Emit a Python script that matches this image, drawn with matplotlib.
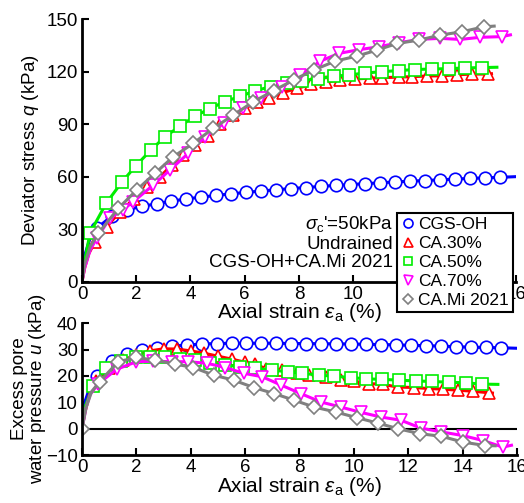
import numpy as np
import matplotlib
matplotlib.use("Agg")
import matplotlib.pyplot as plt
from matplotlib.lines import Line2D

plt.rcParams["font.family"] = ["Liberation Sans", "DejaVu Sans"]
plt.rcParams["mathtext.fontset"] = "custom"
plt.rcParams["mathtext.rm"] = "Liberation Sans"
plt.rcParams["mathtext.it"] = "Liberation Sans:italic"

# ---- Deviator stress q (kPa) vs axial strain (%) ----
q_blue_x = [0, 0.1, 0.3, 0.55, 1.1, 1.65, 2.2, 2.75, 3.3, 3.85, 4.4, 4.95, 5.5, 6.05, 6.6, 7.15, 7.7,
            8.25, 8.8, 9.35, 9.9, 10.45, 11.0, 11.55, 12.1, 12.65, 13.2, 13.75, 14.3, 14.85, 15.4, 16.0]
q_blue_y = [0, 15, 25, 30.6, 37.5, 41, 43, 44.5, 46, 47.3, 48.3, 49.3, 50.2, 51, 51.8, 52.5, 53.2,
            53.8, 54.4, 55, 55.5, 56, 56.5, 57, 57.4, 57.8, 58.2, 58.6, 59, 59.3, 59.6, 60]
q_red_x = [0, 0.1, 0.25, 0.48, 0.91, 1.4, 1.9, 2.39, 2.88, 3.31, 3.74, 4.17, 4.65, 5.1, 5.55, 6.0, 6.45,
           6.88, 7.4, 7.92, 8.45, 8.99, 9.52, 10.08, 10.63, 11.06, 11.68, 12.17, 12.74, 13.27, 13.82,
           14.38, 14.99, 15.1]
q_red_y = [0, 8, 16, 22.8, 31.4, 40, 47, 54.2, 60, 66.6, 72.5, 78, 83, 90, 95, 99, 102.5,
           104.7, 108, 110.4, 112.7, 114, 115.2, 115.8, 116.3, 116.5, 116.9, 117.1, 117.5, 117.6, 118.2,
           118.6, 118.6, 118.8]
q_green_x = [0, 0.1, 0.2, 0.3, 0.9, 1.46, 1.99, 2.53, 3.05, 3.61, 4.17, 4.72, 5.27, 5.82, 6.38, 6.97,
             7.56, 8.11, 8.7, 9.28, 9.85, 10.44, 11.08, 11.68, 12.27, 12.9, 13.52, 14.13, 14.75, 15.3]
q_green_y = [0, 12, 20, 28, 45, 56.7, 66.3, 75, 82.7, 88.8, 94.6, 98.9, 102.9, 105.8, 109, 111.5,
             113.5, 114.8, 116, 117.3, 118.1, 119.2, 120, 120.6, 121.2, 121.5, 121.7, 122.1, 122.3, 122.5]
q_mag_x = [0, 0.1, 0.3, 0.54, 1.03, 1.5, 1.89, 2.63, 3.24, 3.92, 4.55, 5.23, 5.95, 6.6, 7.37, 8.05,
           8.79, 9.47, 10.2, 10.94, 11.7, 12.41, 13.2, 13.95, 14.68, 15.48, 15.8]
q_mag_y = [0, 8, 18, 24.8, 36.2, 41, 45.7, 55.2, 63.8, 73.3, 82.8, 90.5, 99, 104.7, 111.4, 118,
           126, 130.4, 132.5, 134.2, 136.5, 138.4, 139, 138.4, 139.6, 140, 141]
q_gray_x = [0, 0.1, 0.3, 0.6, 1.34, 2.02, 2.69, 3.37, 4.1, 4.84, 5.58, 6.32, 7.07, 7.8, 8.54, 9.34,
            10.14, 10.88, 11.62, 12.42, 13.22, 14.02, 14.82, 15.2]
q_gray_y = [0, 10, 20, 27.6, 41.9, 52.4, 61.9, 71.4, 79, 87.6, 95.2, 102.8, 109.1, 115.2, 120.9, 126,
            128.9, 132.3, 136.1, 138, 140.9, 142.8, 145.6, 146]

# ---- Excess pore water pressure u (kPa) vs axial strain (%) ----
u_blue_x = q_blue_x
u_blue_y = [0, 10, 16, 20, 25.5, 28.3, 29.8, 30.5, 31.3, 31.7, 32.1, 32.3, 32.4, 32.4, 32.4, 32.4, 32.3,
            32.3, 32.2, 32.2, 32.1, 32.0, 31.9, 31.8, 31.6, 31.5, 31.3, 31.1, 30.9, 30.8, 30.7, 30.5]
u_red_x = [0, 0.1, 0.3, 0.5, 1.0, 1.5, 2.0, 2.5, 3.0, 3.5, 4.0, 4.5, 5.0, 5.5, 6.0, 6.35, 6.76, 7.37,
           7.9, 8.36, 8.97, 9.52, 10.01, 10.57, 11.06, 11.61, 12.23, 12.78, 13.27, 13.82, 14.38, 14.99, 15.1]
u_red_y = [0, 6, 14, 18, 23, 26, 28, 29.5, 30.3, 30.2, 29.5, 28.6, 27.5, 26.4, 25.2, 24.5, 22.8, 22.2,
           21.2, 20.3, 19.7, 18.6, 18.0, 17.1, 16.8, 15.8, 15.6, 15.2, 15.0, 14.6, 14.2, 13.6, 13.5]
u_green_x = [0, 0.1, 0.4, 0.9, 1.45, 2.0, 2.5, 3.05, 3.6, 4.15, 4.7, 5.27, 5.82, 6.37, 7.0, 7.56, 8.11,
             8.72, 9.27, 9.88, 10.46, 11.05, 11.66, 12.27, 12.89, 13.5, 14.11, 14.72, 15.3]
u_green_y = [0, 8, 16.1, 23.2, 25.8, 27, 27.2, 27.2, 26.6, 26, 25, 24.1, 23.5, 22.9, 22.2, 21.6, 21.0,
             20.3, 19.9, 19.4, 18.9, 18.7, 18.4, 18.1, 17.9, 17.6, 17.4, 16.9, 16.8]
u_mag_x = [0, 0.15, 0.3, 0.6, 1.27, 2.0, 2.6, 3.3, 3.9, 4.6, 5.27, 5.95, 6.63, 7.33, 8.05, 8.79, 9.52,
           10.25, 11.0, 11.73, 12.47, 13.2, 14.0, 14.75, 15.48, 15.8]
u_mag_y = [0, 8, 13, 17, 22.5, 25.4, 25.6, 25.4, 25.4, 24.8, 23.2, 21, 19.7, 16.5, 13.3, 10.1, 8.2,
           6.2, 4.4, 3.2, 0.2, -1.2, -2.6, -4.5, -7.0, -6.3]
u_gray_x = [0, 0.15, 0.35, 0.65, 1.33, 2.0, 2.68, 3.42, 4.1, 4.84, 5.58, 6.32, 7.07, 7.8, 8.54, 9.34,
            10.1, 10.88, 11.62, 12.42, 13.22, 14.02, 14.82, 15.2]
u_gray_y = [0, 8, 14, 17.8, 25.4, 27, 26, 24.5, 23.2, 20.3, 18.4, 15.6, 13.3, 10.8, 8.2, 6.3,
            4.2, 2.1, 0, -1.9, -2.9, -5.1, -6.4, -6.5]

labels = ["CGS-OH", "CA.30%", "CA.50%", "CA.70%", "CA.Mi 2021"]
colors = ["#0000ff", "#ff0000", "#00ee00", "#ff00ff", "#808080"]
markers = ["o", "^", "s", "v", "D"]
msizes = [9, 9, 8.5, 9, 7.5]

fig = plt.figure(figsize=(5.24, 5.03), dpi=100)
ax1 = fig.add_axes([0.1565, 0.44, 0.828, 0.522])
ax2 = fig.add_axes([0.1565, 0.0954, 0.830, 0.262])

top_series = [(q_blue_x, q_blue_y, 3), (q_red_x, q_red_y, 3), (q_green_x, q_green_y, 3),
              (q_mag_x, q_mag_y, 3), (q_gray_x, q_gray_y, 3)]
bot_series = [(u_blue_x, u_blue_y, 3), (u_red_x, u_red_y, 3), (u_green_x, u_green_y, 2),
              (u_mag_x, u_mag_y, 3), (u_gray_x, u_gray_y, 0)]

for ax, series in [(ax1, top_series), (ax2, bot_series)]:
    for (x, y, k), c, m, ms in zip(series, colors, markers, msizes):
        idx = [0] + list(range(3, len(x) - 1)) if k == 0 else list(range(k, len(x) - 1))
        ax.plot(x, y, "-", color=c, lw=2.2, marker=m, ms=ms, mfc="white", mec=c, mew=1.2,
                markevery=idx)

ax2.axhline(0, color="black", lw=1.5, zorder=1)

for ax in (ax1, ax2):
    ax.spines["top"].set_visible(False)
    ax.spines["right"].set_visible(False)
    ax.spines["left"].set_linewidth(2)
    ax.spines["bottom"].set_linewidth(2)
    ax.tick_params(direction="in", length=5, width=1.5, labelsize=13.5, pad=3)
    ax.set_xlim(0, 16)
    ax.set_xticks(np.arange(0, 17, 2))
    ax.set_xlabel(r"Axial strain $\varepsilon_{\rm a}$ (%)", fontsize=15, labelpad=-1)

ax1.set_ylim(0, 150)
ax1.set_yticks(np.arange(0, 151, 30))
ax1.set_ylabel(r"Deviator stress $q$ (kPa)", fontsize=13.5)
ax1.yaxis.set_label_coords(-0.095, 0.5)

ax2.set_ylim(-10, 40)
ax2.set_yticks(np.arange(-10, 41, 10))
ax2.set_ylabel("Excess pore\n" + r"water pressure $u$ (kPa)", fontsize=13.5, linespacing=0.95)
ax2.yaxis.set_label_coords(-0.078, 0.5)

ax1.text(11.47, 32.9, r"$\sigma_{\rm c}$'=50kPa", ha="right", va="center", fontsize=13.5)
ax1.text(11.47, 21.5, "Undrained", ha="right", va="center", fontsize=13.5)
ax1.text(11.47, 10.7, "CGS-OH+CA.Mi 2021", ha="right", va="center", fontsize=13.5)

handles = [Line2D([], [], ls="none", marker=m, ms=ms, mfc="white", mec=c, mew=1.2)
           for c, m, ms in zip(colors, markers, msizes)]
leg = fig.legend(handles, labels, loc="upper left", bbox_to_anchor=(0.758, 0.577),
                 fontsize=12.5, frameon=True, fancybox=False, edgecolor="black",
                 handlelength=0.7, handletextpad=0.25, labelspacing=0.22, borderpad=0.25,
                 borderaxespad=0, markerscale=0.72)
leg.get_frame().set_linewidth(1.5)
leg.get_frame().set_alpha(1)

fig.savefig("out.png", dpi=100)
